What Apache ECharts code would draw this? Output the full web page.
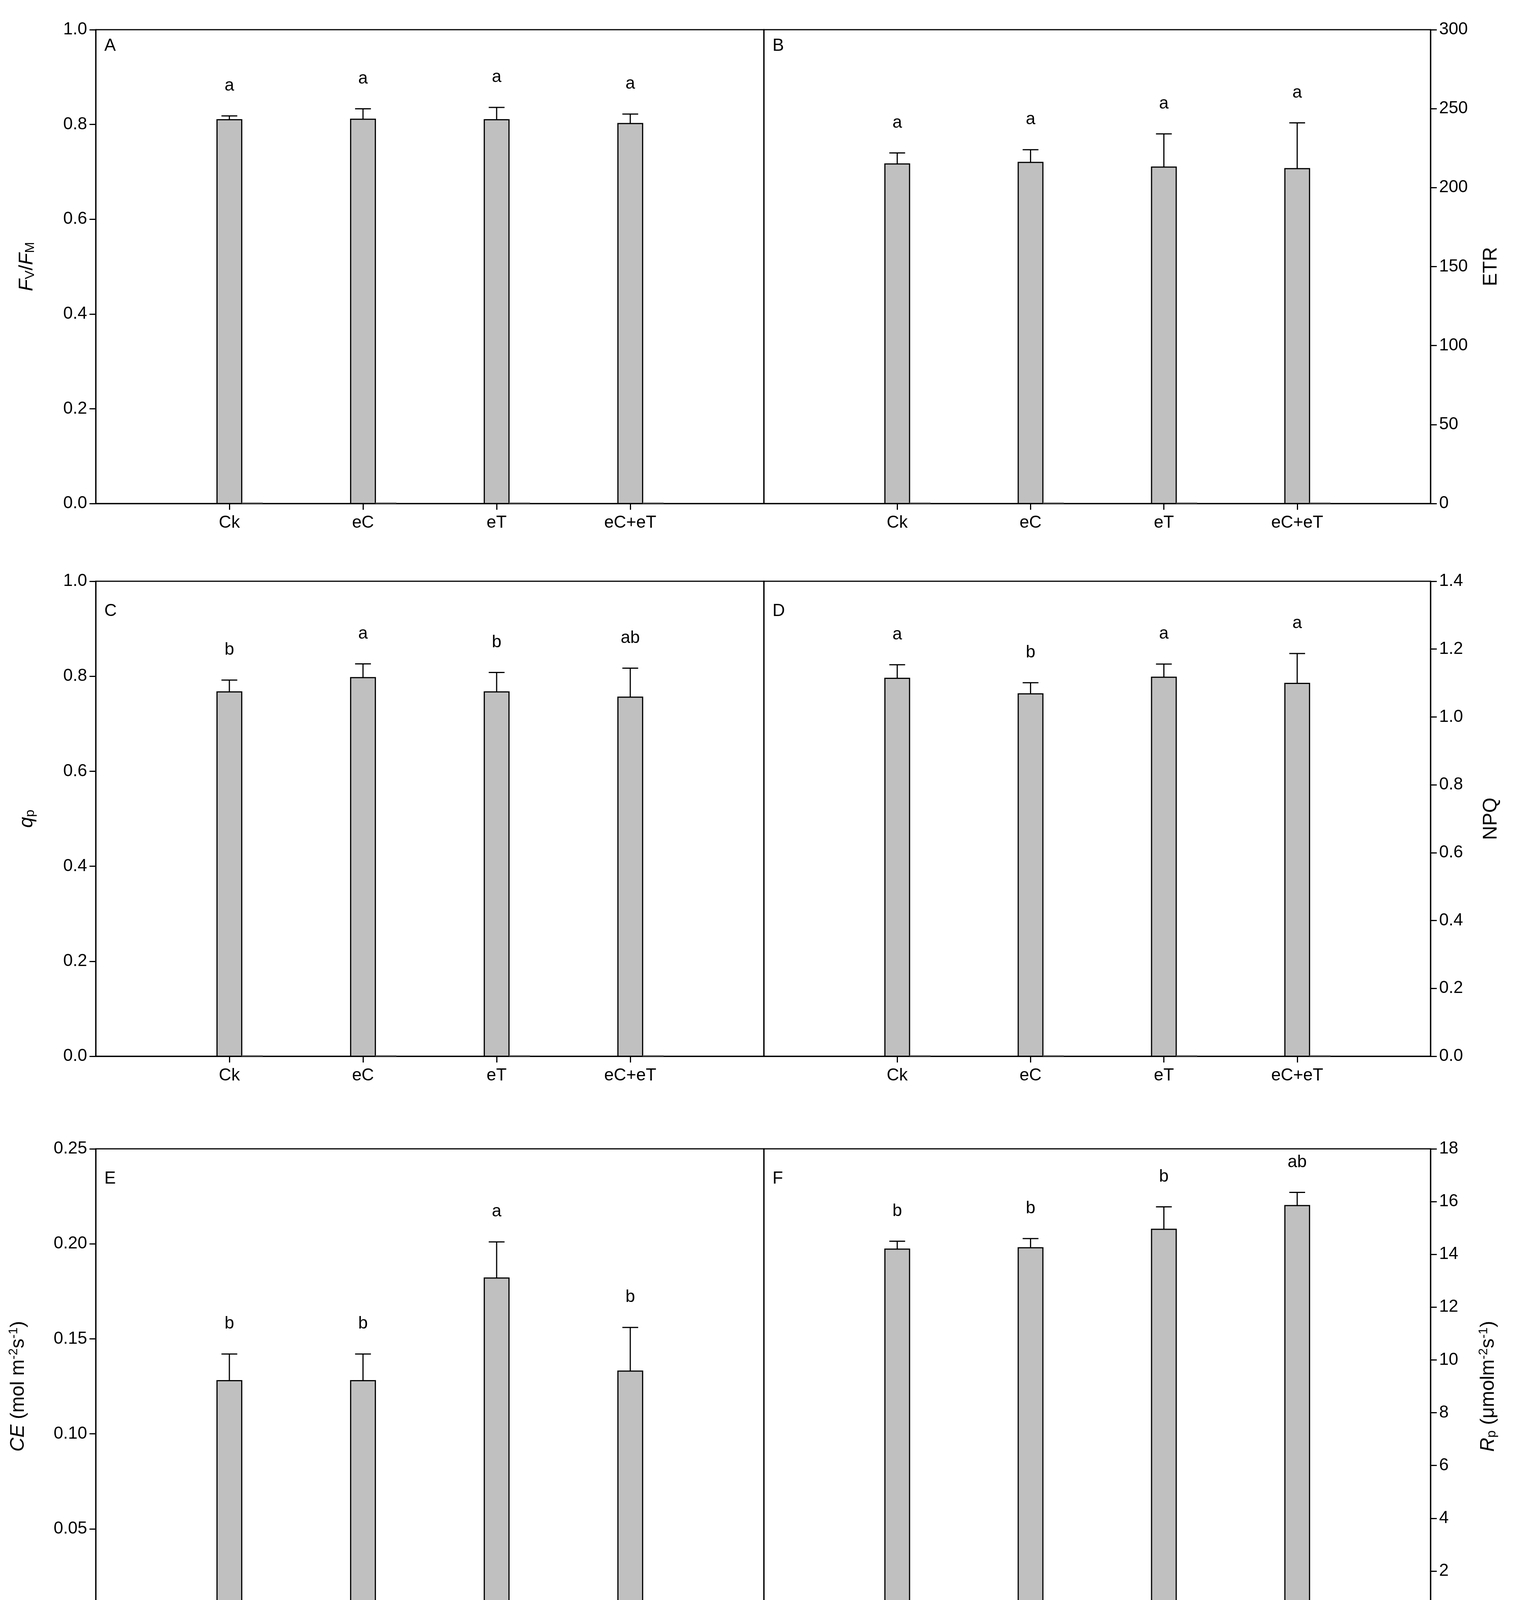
<!DOCTYPE html>
<html>
<head>
<meta charset="utf-8">
<script src="https://cdn.jsdelivr.net/npm/echarts@6/dist/echarts.min.js"></script>
<style>html,body{margin:0;padding:0;background:#fff}#chart{width:3890px;height:4271px}</style>
</head>
<body>
<div id="chart"></div>
<script>
var categories = ['Ck', 'eC', 'eT', 'eC+eT'];

var fvfmMean = [0.810, 0.811, 0.810, 0.802];
var fvfmErr = [0.818, 0.833, 0.836, 0.822];
var fvfmSig = ['a', 'a', 'a', 'a'];

var etrMean = [215, 216, 213, 212];
var etrErr = [222, 224, 234, 241];
var etrSig = ['a', 'a', 'a', 'a'];

var qpMean = [0.767, 0.797, 0.767, 0.756];
var qpErr = [0.792, 0.826, 0.808, 0.817];
var qpSig = ['b', 'a', 'b', 'ab'];

var npqMean = [1.114, 1.068, 1.117, 1.099];
var npqErr = [1.154, 1.101, 1.156, 1.187];
var npqSig = ['a', 'b', 'a', 'a'];

var ceMean = [0.128, 0.128, 0.182, 0.133];
var ceErr = [0.142, 0.142, 0.201, 0.156];
var ceSig = ['b', 'b', 'a', 'b'];

var rpMean = [14.2, 14.25, 14.95, 15.85];
var rpErr = [14.5, 14.6, 15.8, 16.35];
var rpSig = ['b', 'b', 'b', 'ab'];

var font = 'Liberation Sans, Arial, sans-serif';

var panels = [
    { key: 'A', mean: fvfmMean, err: fvfmErr, sig: fvfmSig, max: 1, interval: 0.2, dec: 1, side: 'left',
      name: '{i|F}{sub|V}{n|/}{i|F}{sub|M}', gap: 150 },
    { key: 'B', mean: etrMean, err: etrErr, sig: etrSig, max: 300, interval: 50, dec: 0, side: 'right',
      name: '{n|ETR}', gap: 130 },
    { key: 'C', mean: qpMean, err: qpErr, sig: qpSig, max: 1, interval: 0.2, dec: 1, side: 'left',
      name: '{i|q}{sub|p}', gap: 150 },
    { key: 'D', mean: npqMean, err: npqErr, sig: npqSig, max: 1.4, interval: 0.2, dec: 1, side: 'right',
      name: '{n|NPQ}', gap: 130 },
    { key: 'E', mean: ceMean, err: ceErr, sig: ceSig, max: 0.25, interval: 0.05, dec: 2, side: 'left',
      name: '{i|CE}{n| (mol m}{sup|-2}{n|s}{sup|-1}{n|)}', gap: 170 },
    { key: 'F', mean: rpMean, err: rpErr, sig: rpSig, max: 18, interval: 2, dec: 0, side: 'right',
      name: '{i|R}{sub|p}{n| (μmolm}{sup|-2}{n|s}{sup|-1}{n|)}', gap: 120 }
];

var rows = [[76, 1289], [1488, 2704], [2941, 4157]];
var cols = [[245, 1955], [1955, 3661]];

var richName = {
    n: { fontSize: 50, fontFamily: font, color: '#000' },
    i: { fontSize: 50, fontFamily: font, fontStyle: 'italic', color: '#000' },
    sub: { fontSize: 34, fontFamily: font, color: '#000', padding: [18, 0, 0, 0] },
    sup: { fontSize: 32, fontFamily: font, color: '#000', padding: [0, 0, 24, 0] }
};

var grids = [], xAxes = [], yAxes = [], series = [], graphics = [];

panels.forEach(function (p, idx) {
    var r = rows[Math.floor(idx / 2)], c = cols[idx % 2];
    grids.push({
        left: c[0], width: c[1] - c[0], top: r[0], height: r[1] - r[0],
        show: true, borderColor: '#000', borderWidth: 3, backgroundColor: 'transparent'
    });
    xAxes.push({
        gridIndex: idx, type: 'value', min: 0, max: 5, interval: 1,
        splitLine: { show: false },
        axisLine: { onZero: false, lineStyle: { color: '#000', width: 3 } },
        axisTick: { show: true, length: 16, customValues: [1, 2, 3, 4], lineStyle: { color: '#000', width: 3 } },
        axisLabel: {
            customValues: [1, 2, 3, 4], margin: 28, fontSize: 44, fontFamily: font, color: '#000',
            formatter: function (v) { return categories[v - 1] || ''; }
        }
    });
    yAxes.push({
        gridIndex: idx, type: 'value', min: 0, max: p.max, interval: p.interval,
        position: p.side,
        splitLine: { show: false },
        axisLine: { show: true, onZero: false, lineStyle: { color: '#000', width: 3 } },
        axisTick: { show: true, length: 16, lineStyle: { color: '#000', width: 3 } },
        axisLabel: {
            margin: 22, fontSize: 44, fontFamily: font, color: '#000',
            formatter: function (v) { return v.toFixed(p.dec); }
        },
        name: p.name, nameLocation: 'middle', nameGap: p.gap,
        nameRotate: 90,
        nameTextStyle: { rich: richName }
    });

    var data = p.mean.map(function (m, i) { return [i + 1, m, p.err[i], p.sig[i]]; });
    series.push({
        type: 'custom', xAxisIndex: idx, yAxisIndex: idx, data: data, silent: true,
        renderItem: function (params, api) {
            var x = api.value(0), m = api.value(1), e = api.value(2);
            var w = api.size([1, 0])[0] * 0.185;
            var top = api.coord([x, m]), base = api.coord([x, 0]), et = api.coord([x, e]);
            var cap = w * 0.32;
            return {
                type: 'group',
                children: [
                    { type: 'rect', shape: { x: top[0] - w / 2, y: top[1], width: w, height: base[1] - top[1] },
                      style: { fill: '#c0c0c0', stroke: '#000', lineWidth: 3 } },
                    { type: 'line', shape: { x1: top[0] + w / 2, y1: base[1] - 1, x2: top[0] + w * 1.35, y2: base[1] - 1 },
                      style: { stroke: '#555', lineWidth: 3 } },
                    { type: 'line', shape: { x1: top[0], y1: top[1], x2: et[0], y2: et[1] },
                      style: { stroke: '#000', lineWidth: 3 } },
                    { type: 'line', shape: { x1: et[0] - cap, y1: et[1], x2: et[0] + cap, y2: et[1] },
                      style: { stroke: '#000', lineWidth: 3 } },
                    { type: 'text', x: et[0], y: et[1] - 55,
                      style: { text: api.value(3), fontSize: 44, fontFamily: font, fill: '#000',
                               align: 'center', verticalAlign: 'bottom' } }
                ]
            };
        }
    });

    graphics.push({
        type: 'text', left: c[0] + 22, top: r[0] + (idx < 2 ? 20 : 55),
        style: { text: p.key, fontSize: 44, fontFamily: font, fill: '#000' }
    });
});

var chart = echarts.init(document.getElementById('chart'), null, { renderer: 'canvas' });
chart.setOption({
    animation: false,
    backgroundColor: '#fff',
    grid: grids,
    xAxis: xAxes,
    yAxis: yAxes,
    series: series,
    graphic: graphics
});
</script>
</body>
</html>
